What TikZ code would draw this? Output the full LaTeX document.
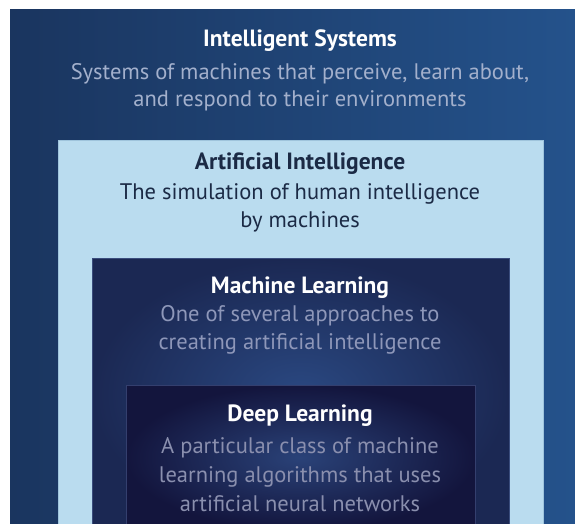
\documentclass[tikz,border=0pt]{standalone}
\usepackage{fontspec}
\setmainfont{PT Sans}

% Colours of the four layers
\definecolor{outerleft}{HTML}{1A355F}
\definecolor{outerright}{HTML}{24528B}
\definecolor{aifill}{HTML}{BADCEF}
\definecolor{aiedge}{HTML}{9FC4DC}
\definecolor{mlfill}{HTML}{1B2853}
\definecolor{mlglow}{HTML}{2A4881}
\definecolor{mledge}{HTML}{3A4C7C}
\definecolor{dlfill}{HTML}{13153D}
\definecolor{dlglow}{HTML}{2A4278}
\definecolor{dledge}{HTML}{343F6E}
\definecolor{istext}{HTML}{A3B0CC}
\definecolor{aitext}{HTML}{1B2A45}
\definecolor{mltext}{HTML}{8E97B9}
\definecolor{dltext}{HTML}{8A8FAE}

\tikzset{
  heading/.style={anchor=north, inner sep=0pt, align=center,
    font=\fontsize{23.5}{28}\selectfont\bfseries},
  blurb/.style={anchor=north, inner sep=0pt, align=center,
    font=\fontsize{22.5}{28}\selectfont},
}

\begin{document}
\begin{tikzpicture}[x=1pt,y=-1pt]
\useasboundingbox (0,0) rectangle (575,524);

% Nested layers, outermost first
\fill[left color=outerleft, right color=outerright] (10,10) rectangle (575,524);
\filldraw[fill=aifill, draw=aiedge, line width=0.8pt] (58,140) rectangle (543,530);
\shade[shading=radial, inner color=mlglow, outer color=mlfill] (92,258) rectangle (509,530);
\draw[mledge, line width=0.8pt] (92,258) rectangle (509,530);
\shade[shading=radial, inner color=dlglow, outer color=dlfill] (126,385) rectangle (475,530);
\draw[dledge, line width=0.8pt] (126,385) rectangle (475,530);

% Intelligent systems
\node[heading, text=white] (ishead) at (300,29.7) {Intelligent Systems};
\node[blurb, text=istext, font=\fontsize{22.5}{27}\selectfont] (isblurb) at (300,63.6)
  {Systems of machines that perceive, learn about,\\and respond to their environments};

% Artificial intelligence
\node[heading, text=aitext] (aihead) at (300,153) {Artificial Intelligence};
\node[blurb, text=aitext] (aiblurb) at (300,183.6)
  {The simulation of human intelligence\\by machines};

% Machine learning
\node[heading, text=white] (mlhead) at (300,277) {Machine Learning};
\node[blurb, text=mltext] (mlblurb) at (300,305.6)
  {One of several approaches to\\creating artificial intelligence};

% Deep learning
\node[heading, text=white] (dlhead) at (300,405) {Deep Learning};
\node[blurb, text=dltext, font=\fontsize{22.5}{29}\selectfont] (dlblurb) at (300,437.6)
  {A particular class of machine\\learning algorithms that uses\\artificial neural networks};
\end{tikzpicture}
\end{document}
